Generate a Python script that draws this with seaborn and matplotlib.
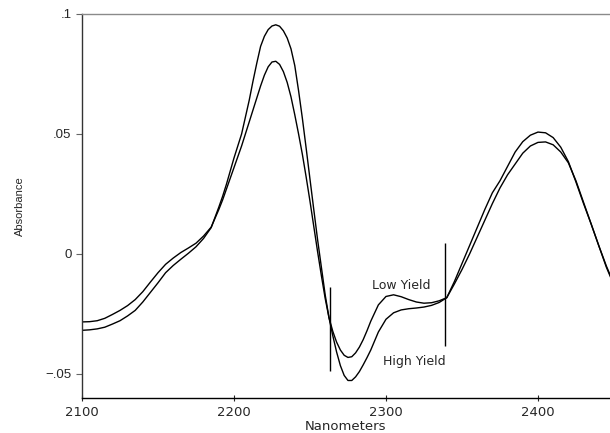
import numpy as np
import pandas as pd
import matplotlib
matplotlib.use("Agg")
import matplotlib.pyplot as plt
import seaborn as sns

# wavelength grid (nm): 5 nm apart, 2.5 nm through the big peak and trough
nm = (list(range(2100, 2190, 5))
      + [2190 + 2.5 * i for i in range(41)]
      + list(range(2295, 2455, 5)))

high_yield = [
    # 2100 - 2185
    -0.0318, -0.0316, -0.0312, -0.0305, -0.0292, -0.0278, -0.0258, -0.0235,
    -0.0200, -0.0160, -0.0120, -0.0078, -0.0048, -0.0022, 0.0003, 0.0030,
    0.0065, 0.0110,
    # 2190 - 2290 (2.5 nm)
    0.0195, 0.0240, 0.0290, 0.0345, 0.0400, 0.0450, 0.0500, 0.0570,
    0.0640, 0.0720, 0.0795, 0.0865, 0.0907, 0.0935, 0.0950, 0.0955,
    0.0949, 0.0930, 0.0900, 0.0855, 0.0785, 0.0680, 0.0565, 0.0440,
    0.0312, 0.0185, 0.0060, -0.0055, -0.0170, -0.0265, -0.0340, -0.0408,
    -0.0465, -0.0506, -0.0527, -0.0527, -0.0512, -0.0490, -0.0462, -0.0432,
    -0.0400,
    # 2295 - 2450
    -0.0325, -0.0272, -0.0245, -0.0233, -0.0228, -0.0225, -0.0221, -0.0214,
    -0.0202, -0.0182, -0.0115, -0.0040, 0.0035, 0.0110, 0.0185, 0.0255,
    0.0305, 0.0365, 0.0425, 0.0468, 0.0495, 0.0508, 0.0505, 0.0485,
    0.0445, 0.0385, 0.0300, 0.0210, 0.0125, 0.0035, -0.0050, -0.0125,
]

low_yield = [
    # 2100 - 2185
    -0.0283, -0.0282, -0.0278, -0.0268, -0.0252, -0.0235, -0.0215, -0.0190,
    -0.0157, -0.0117, -0.0078, -0.0043, -0.0017, 0.0006, 0.0025, 0.0045,
    0.0075, 0.0112,
    # 2190 - 2290 (2.5 nm)
    0.0185, 0.0225, 0.0270, 0.0315, 0.0360, 0.0405, 0.0450, 0.0500,
    0.0550, 0.0600, 0.0650, 0.0700, 0.0745, 0.0780, 0.0800, 0.0803,
    0.0790, 0.0760, 0.0715, 0.0655, 0.0580, 0.0500, 0.0415, 0.0320,
    0.0220, 0.0115, 0.0010, -0.0090, -0.0185, -0.0265, -0.0322, -0.0367,
    -0.0400, -0.0422, -0.0431, -0.0428, -0.0412, -0.0388, -0.0357, -0.0320,
    -0.0280,
    # 2295 - 2450
    -0.0212, -0.0177, -0.0170, -0.0178, -0.0190, -0.0200, -0.0205, -0.0203,
    -0.0195, -0.0182, -0.0125, -0.0065, 0.0000, 0.0070, 0.0140, 0.0210,
    0.0275, 0.0330, 0.0375, 0.0420, 0.0450, 0.0465, 0.0467, 0.0455,
    0.0425, 0.0380, 0.0305, 0.0215, 0.0125, 0.0035, -0.0055, -0.0130,
]

# the two vertical marker lines
marker_nm = [2263, 2338.8]
marker_lo = [-0.0488, -0.0384]
marker_hi = [-0.0136, 0.0045]

y_ticks = [-0.05, 0, 0.05, 0.1]
y_tick_labels = ["\u2212.05", "0", ".05", ".1"]
x_ticks = [2100, 2200, 2300, 2400]

df = pd.DataFrame({"nm": nm, "High Yield": high_yield, "Low Yield": low_yield})

sns.set_style("ticks")
plt.rcParams["font.family"] = ["DejaVu Sans"]

fig = plt.figure(figsize=(6.10, 4.33), dpi=100)
ax = fig.add_axes([82 / 610, 1 - 398 / 433, 1 - 82 / 610, (398 - 14) / 433])

for col in ["High Yield", "Low Yield"]:
    sns.lineplot(data=df, x="nm", y=col, ax=ax, color="black", linewidth=1.0)

ax.vlines(marker_nm, marker_lo, marker_hi, color="black", linewidth=1.0)

ax.text(2310, -0.0132, "Low Yield", ha="center", va="center", fontsize=9)
ax.text(2318.4, -0.045, "High Yield", ha="center", va="center", fontsize=9)

ax.set_xlim(2100, 2447.4)
ax.set_ylim(-0.06, 0.1)
ax.set_xticks(x_ticks)
ax.set_yticks(y_ticks)
ax.set_yticklabels(y_tick_labels, fontfamily="Liberation Sans", fontsize=9.5)
ax.tick_params(axis="x", labelsize=9.5, direction="inout", length=4, width=0.8)
ax.tick_params(axis="y", direction="out", length=4, width=0.8, color="#666666")

ax.set_xlabel("Nanometers", fontsize=9.5, labelpad=1)
ax.set_ylabel("Absorbance", fontsize=8, fontfamily="Liberation Sans", labelpad=15)

ax.spines["right"].set_visible(False)
ax.spines["top"].set_color("#8a8a8a")
ax.spines["left"].set_color("#333333")
ax.spines["bottom"].set_color("black")
for s in ax.spines.values():
    s.set_linewidth(1.0)

fig.savefig("out.png", dpi=100)
